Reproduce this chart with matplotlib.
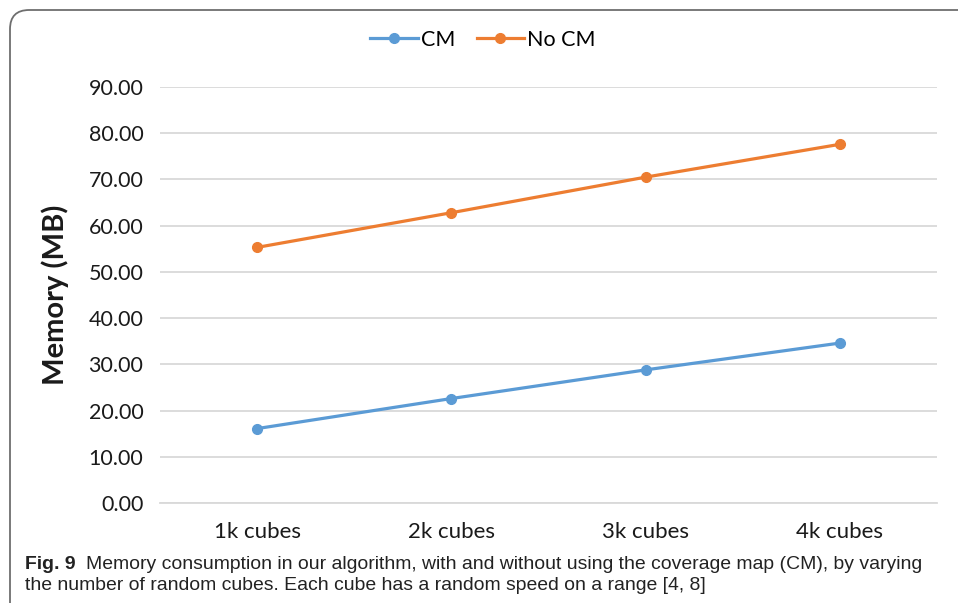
import matplotlib
matplotlib.use("Agg")
import matplotlib.pyplot as plt
from matplotlib.patches import FancyBboxPatch
from matplotlib import font_manager

categories = ["1k cubes", "2k cubes", "3k cubes", "4k cubes"]
cm_values = [16.1, 22.6, 28.8, 34.6]
no_cm_values = [55.3, 62.8, 70.5, 77.6]
y_ticks = [0, 10, 20, 30, 40, 50, 60, 70, 80, 90]

caption_bold = "Fig. 9"
caption_line1 = ("Memory consumption in our algorithm, with and without using the "
                 "coverage map (CM), by varying")
caption_line2 = "the number of random cubes. Each cube has a random speed on a range [4, 8]"

W, H = 958, 603
fig = plt.figure(figsize=(W / 100, H / 100), dpi=100)

names = {f.name for f in font_manager.fontManager.ttflist}
cap_font = "Liberation Sans Narrow" if "Liberation Sans Narrow" in names else "Liberation Sans"
tick_font = "Lato" if "Lato" in names else "DejaVu Sans"

# outer rounded frame (clipped on right and bottom like the scan)
frame = FancyBboxPatch((10 / W, -0.05), 1.1, 1.05 - 10 / H,
                       boxstyle="round,pad=0,rounding_size=0.02",
                       transform=fig.transFigure, fill=False,
                       edgecolor="#6e6e6e", linewidth=1.3, mutation_aspect=W / H)
fig.patches.append(frame)

ax = fig.add_axes([160 / W, 1 - 503 / H, (937 - 160) / W, (503 - 87) / H])
x = range(len(categories))
ax.plot(x, cm_values, color="#5B9BD5", lw=2.3, marker="o", ms=7, label="CM", zorder=3)
ax.plot(x, no_cm_values, color="#ED7D31", lw=2.3, marker="o", ms=7, label="No CM", zorder=3)

ax.set_xlim(-0.5, len(categories) - 0.5)
ax.set_ylim(0, 90)
ax.set_yticks(y_ticks)
ax.set_yticklabels([f"{v:.2f}" for v in y_ticks], family=tick_font, fontsize=15.5)
ax.set_xticks(list(x))
ax.set_xticklabels(categories, family=tick_font, fontsize=16)
ax.tick_params(length=0, pad=12, colors="#1a1a1a")
ax.tick_params(axis="x", pad=14)
ax.grid(axis="y", color="#d9d9d9", lw=1.3)
ax.set_axisbelow(True)
for s in ["top", "right", "left"]:
    ax.spines[s].set_visible(False)
ax.spines["bottom"].set_color("#d9d9d9")
ax.spines["bottom"].set_linewidth(1.3)

ax.set_ylabel("Memory (MB)", family=tick_font, fontsize=21, fontweight="bold",
              color="#1a1a1a", labelpad=14)

fig.legend(loc="center", bbox_to_anchor=(483 / W, 1 - 40 / H), ncol=2, frameon=False,
           prop={"family": tick_font, "size": 15.5}, handlelength=2.2,
           handletextpad=0.15, columnspacing=1.0)

# caption: shrink the font so line 1 ends where the reference does
t_bold = fig.text(25 / W, 1 - 569 / H, caption_bold, family=cap_font, fontsize=14,
                  fontweight="bold", va="baseline", color="#222222")
t1 = fig.text(92 / W, 1 - 569 / H, caption_line1, family=cap_font, fontsize=14,
              va="baseline", color="#222222")
t2 = fig.text(25 / W, 1 - 590 / H, caption_line2, family=cap_font, fontsize=14,
              va="baseline", color="#222222")
r = fig.canvas.get_renderer()
w1 = t1.get_window_extent(r).width
size = 14 * (930 - 92) / w1
for t in (t_bold, t1, t2):
    t.set_fontsize(size)
wb = t_bold.get_window_extent(r).width
t1.set_x((25 + wb + 10) / W)
w1 = t1.get_window_extent(r).width
if 25 + wb + 10 + w1 > 935:
    size *= (935 - 35 - wb) / w1
    for t in (t_bold, t1, t2):
        t.set_fontsize(size)

fig.savefig("out.png", dpi=100)
